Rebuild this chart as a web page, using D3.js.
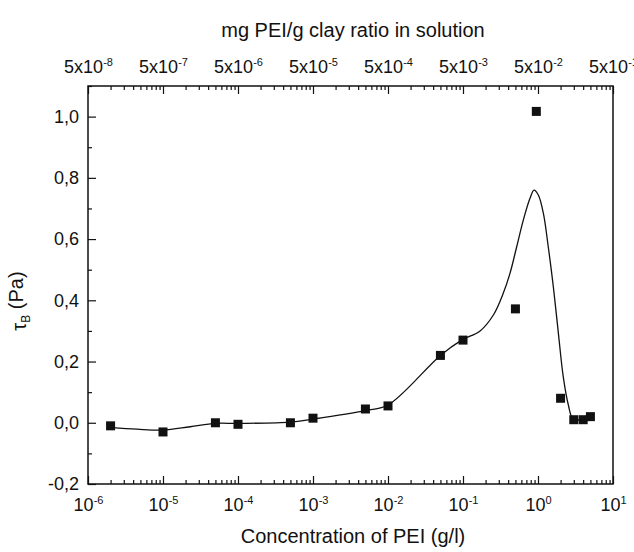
<!DOCTYPE html>
<html>
<head>
<meta charset="utf-8">
<script src="https://cdn.jsdelivr.net/npm/d3@7"></script>
<style>
  html, body { margin: 0; padding: 0; background: #fff; }
  svg { display: block; font-family: "Liberation Sans", Arial, sans-serif; }
</style>
</head>
<body>
<svg id="chart" width="634" height="552"></svg>
<script>
// ---- data ----
const concentration = [2e-6, 1e-5, 5e-5, 1e-4, 5e-4, 1e-3, 5e-3, 1e-2, 5e-2, 1e-1, 0.5, 0.95, 2, 3, 4, 5];
const tauB          = [-0.01, -0.03, 0.0, -0.005, 0.0, 0.015, 0.045, 0.055, 0.22, 0.27, 0.372, 1.017, 0.08, 0.01, 0.01, 0.02];

// smooth fitted curve drawn in the reference
const fitConc = [2e-6, 4.5e-6, 1e-5, 2.3e-5, 5e-5, 1e-4, 5e-4, 1e-3, 5e-3, 1e-2, 5e-2, 0.096,
                 0.169, 0.254, 0.344, 0.423, 0.52, 0.637, 0.782, 0.885, 1.01, 1.18, 1.37, 1.60, 1.87,
                 2.17, 2.54, 2.90, 3.63, 4.94];
const fitTau  = [-0.015, -0.021, -0.024, -0.013, -0.002, -0.002, 0.002, 0.012, 0.040, 0.058, 0.22, 0.27,
                 0.30, 0.352, 0.423, 0.488, 0.575, 0.662, 0.733, 0.76, 0.744, 0.684, 0.575, 0.445, 0.292,
                 0.151, 0.058, 0.015, 0.009, 0.018];

// tick labels
const bottomExponents = [-6, -5, -4, -3, -2, -1, 0, 1];
const topExponents    = [-8, -7, -6, -5, -4, -3, -2, -1];
const yTicks          = [-0.2, 0.0, 0.2, 0.4, 0.6, 0.8, 1.0];
const yMinorTicks     = [-0.1, 0.1, 0.3, 0.5, 0.7, 0.9, 1.1];

const xTitle = "Concentration of PEI (g/l)";
const topTitle = "mg PEI/g clay ratio in solution";

// ---- layout ----
const L = 88, R = 613, T = 86, B = 484;
const svg = d3.select("#chart");

const x = d3.scaleLog().domain([1e-6, 10]).range([L, R]);
const xTop = d3.scaleLog().domain([5e-8, 5e-1]).range([L, R]);
const y = d3.scaleLinear().domain([-0.2, 1.1]).range([B, T]);

const bottomMajor = bottomExponents.map(e => Math.pow(10, e));
const bottomMinor = [];
bottomExponents.slice(0, -1).forEach(e => { for (let k = 2; k <= 9; k++) bottomMinor.push(k * Math.pow(10, e)); });
const topMajor = topExponents.map(e => 5 * Math.pow(10, e));
const topMinor = [];
topExponents.slice(0, -1).forEach(e => { for (let k = 2; k <= 9; k++) topMinor.push(5 * k * Math.pow(10, e)); });

function styleAxis(g) {
  g.select(".domain").remove();
  g.selectAll("line").attr("stroke", "#111").attr("stroke-width", 1.2);
  g.selectAll("text").attr("fill", "#111").attr("font-size", 18).attr("font-family", "Liberation Sans, Arial, sans-serif");
}

// bottom axis
const gb = svg.append("g").attr("transform", `translate(0,${B})`)
  .call(d3.axisBottom(x).tickValues(bottomMajor).tickSizeInner(-8).tickSizeOuter(0).tickPadding(14));
styleAxis(gb);
gb.selectAll("text").each(function(d, i) {
  const t = d3.select(this).text(null);
  t.append("tspan").text("10");
  t.append("tspan").attr("dy", "-0.65em").attr("font-size", 11).text(String(bottomExponents[i]));
});
const gbm = svg.append("g").attr("transform", `translate(0,${B})`)
  .call(d3.axisBottom(x).tickValues(bottomMinor).tickSizeInner(-4).tickSizeOuter(0).tickFormat(""));
styleAxis(gbm);

// top axis
const gt = svg.append("g").attr("transform", `translate(0,${T})`)
  .call(d3.axisTop(xTop).tickValues(topMajor).tickSizeInner(-8).tickSizeOuter(0).tickPadding(13));
styleAxis(gt);
gt.selectAll("text").each(function(d, i) {
  const t = d3.select(this).text(null);
  t.append("tspan").text("5x10");
  t.append("tspan").attr("dy", "-0.65em").attr("font-size", 11).text(String(topExponents[i]));
});
const gtm = svg.append("g").attr("transform", `translate(0,${T})`)
  .call(d3.axisTop(xTop).tickValues(topMinor).tickSizeInner(-4).tickSizeOuter(0).tickFormat(""));
styleAxis(gtm);

// left axis
const fmt = d3.format(".1f");
const gl = svg.append("g").attr("transform", `translate(${L},0)`)
  .call(d3.axisLeft(y).tickValues(yTicks).tickSizeInner(-8).tickSizeOuter(0).tickPadding(9)
        .tickFormat(d => fmt(d).replace(".", ",").replace("\u2212", "-")));
styleAxis(gl);
const glm = svg.append("g").attr("transform", `translate(${L},0)`)
  .call(d3.axisLeft(y).tickValues(yMinorTicks).tickSizeInner(-4).tickSizeOuter(0).tickFormat(""));
styleAxis(glm);

// frame
svg.append("rect").attr("x", L).attr("y", T).attr("width", R - L).attr("height", B - T)
  .attr("fill", "none").attr("stroke", "#111").attr("stroke-width", 1.5);

// fitted curve
const fitData = fitConc.map((c, i) => [c, fitTau[i]]);
svg.append("path").datum(fitData)
  .attr("fill", "none").attr("stroke", "#111").attr("stroke-width", 1.3)
  .attr("d", d3.line().x(d => x(d[0])).y(d => y(d[1])).curve(d3.curveCatmullRom.alpha(0.5)));

// data squares
const pts = concentration.map((c, i) => [c, tauB[i]]);
const s = 9;
svg.append("g").selectAll("rect").data(pts).join("rect")
  .attr("x", d => x(d[0]) - s / 2).attr("y", d => y(d[1]) - s / 2)
  .attr("width", s).attr("height", s).attr("fill", "#111");

// titles
svg.append("text").attr("x", 353).attr("y", 37).attr("text-anchor", "middle")
  .attr("font-size", 20).attr("fill", "#111").text(topTitle);
svg.append("text").attr("x", 353).attr("y", 543).attr("text-anchor", "middle")
  .attr("font-size", 20).attr("fill", "#111").text(xTitle);
const yt = svg.append("text").attr("transform", "translate(26,301) rotate(-90)")
  .attr("text-anchor", "middle").attr("font-size", 20).attr("fill", "#111");
yt.append("tspan").text("τ");
yt.append("tspan").attr("dy", "0.35em").attr("font-size", 12).text("B");
yt.append("tspan").attr("dy", "-0.35em").text(" (Pa)");
</script>
</body>
</html>
